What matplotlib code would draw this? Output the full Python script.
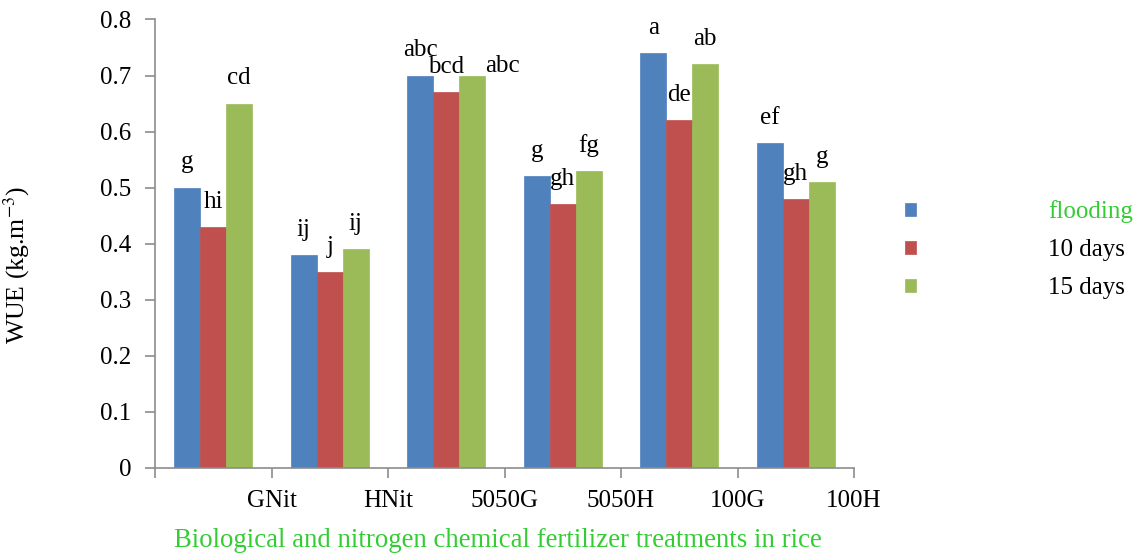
import numpy as np
import matplotlib
matplotlib.use('Agg')
import matplotlib.pyplot as plt

plt.rcParams['font.family'] = 'Liberation Serif'
plt.rcParams['mathtext.fontset'] = 'stix'

# datos
tratamientos = ['GNit', 'HNit', '5050G', '5050H', '100G', '100H']
series = ['flooding', '10 days', '15 days']
wue_flooding = [0.50, 0.38, 0.70, 0.52, 0.74, 0.58]
wue_10d = [0.43, 0.35, 0.67, 0.47, 0.62, 0.48]
wue_15d = [0.65, 0.39, 0.70, 0.53, 0.72, 0.51]
letras_flooding = ['g', 'ij', 'abc', 'g', 'a', 'ef']
letras_10d = ['hi', 'j', 'bcd', 'gh', 'de', 'gh']
letras_15d = ['cd', 'ij', 'abc', 'fg', 'ab', 'g']

valores = [wue_flooding, wue_10d, wue_15d]
letras = [letras_flooding, letras_10d, letras_15d]
colores = ['#4f81bd', '#c0504d', '#9bbb59']

# ajuste a mano de una letra (serie, grupo): (dx, dy)
ajustes = {(2, 2): (0.26, -0.028)}

fig = plt.figure(figsize=(11.45, 5.55), dpi=100)
ax = fig.add_axes([0.1354, 0.1568, 0.7459 - 0.1354, 0.9649 - 0.1568])

n = len(tratamientos)
x = np.arange(n) + 0.5
ancho = 0.223
barras = []
for k, (vals, col) in enumerate(zip(valores, colores)):
    pos = x + (k - 1) * ancho
    b = ax.bar(pos, vals, ancho, color=col, edgecolor=col, linewidth=0.5)
    barras.append(b)
    for i, (p, v) in enumerate(zip(pos, vals)):
        dx, dy = ajustes.get((k, i), (0, 0))
        ax.text(p + dx, v + 0.045 + dy, letras[k][i], ha='center', va='center', fontsize=18)

ax.set_xlim(0, n)
ax.set_ylim(0, 0.8)
ax.set_yticks(np.arange(0, 0.81, 0.1))
ax.set_yticklabels(['0'] + ['%.1f' % v for v in np.arange(0.1, 0.81, 0.1)], fontsize=18)
ax.set_xticks(np.arange(n + 1))
ax.set_xticklabels([''] + tratamientos, fontsize=18)

for s in ['top', 'right']:
    ax.spines[s].set_visible(False)
for s in ['left', 'bottom']:
    ax.spines[s].set_color('#8c8c8c')
    ax.spines[s].set_linewidth(1.2)
ax.tick_params(axis='y', colors='#8c8c8c', length=7, width=1.2, pad=10, labelcolor='black')
ax.tick_params(axis='x', colors='#8c8c8c', length=7, width=1.2, pad=9, labelcolor='black')

ax.set_ylabel('WUE (kg.m$^{-3}$)', fontsize=18.5)
ax.yaxis.set_label_coords(-0.176, 0.453)
ax.set_xlabel('Biological and nitrogen chemical fertilizer treatments in rice', fontsize=19.3, color='#33cc33')
ax.xaxis.set_label_coords(0.49, -0.133)

leg = ax.legend(barras, series, loc='upper left', bbox_to_anchor=(0.790, 0.639),
                bbox_transform=fig.transFigure, frameon=False, fontsize=18,
                borderpad=0, borderaxespad=0,
                handlelength=0.45, handleheight=0.45, handletextpad=5.3, labelspacing=0.64)
leg.get_texts()[0].set_color('#33cc33')

plt.savefig('out.png', dpi=100)
